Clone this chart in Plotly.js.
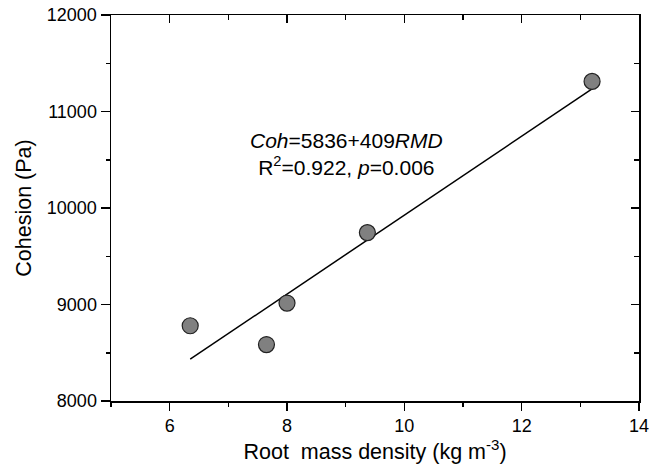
<!DOCTYPE html>
<html><head><meta charset="utf-8">
<script src="https://cdn.plot.ly/plotly-3.0.1.min.js"></script>
<style>html,body{margin:0;padding:0;background:#fff}</style>
</head><body>
<div id="chart" style="width:661px;height:466px"></div>
<script>
const rmd = [6.35, 7.65, 8.0, 9.37, 13.2];
const cohesion = [8780, 8585, 9015, 9745, 11312];
const fitX = [6.35, 13.2];
const fitY = [8433, 11235];
const xTicks = [6, 8, 10, 12, 14];
const yTicks = [8000, 9000, 10000, 11000, 12000];
const eqText = '<i>Coh</i>=5836+409<i>RMD</i><br>R<sup>2</sup>=0.922, <i>p</i>=0.006';

const FONT = 'Liberation Sans, Arial, sans-serif';
const traces = [
  {x: fitX, y: fitY, mode: 'lines', type: 'scatter', line: {color: '#000', width: 1.5}, hoverinfo: 'skip'},
  {x: rmd, y: cohesion, mode: 'markers', type: 'scatter',
   marker: {size: 16, color: '#808080', line: {color: '#222', width: 1.2}}},
  {x: [5], y: [8000], xaxis: 'x2', yaxis: 'y2', mode: 'markers', marker: {opacity: 0}, hoverinfo: 'skip'}
];
const common = {showgrid: false, zeroline: false, linecolor: '#000', linewidth: 1.5, tickcolor: '#000', tickwidth: 1.5};
const layout = {
  width: 661, height: 466, showlegend: false,
  margin: {l: 111, r: 22, t: 15, b: 65},
  paper_bgcolor: '#fff', plot_bgcolor: '#fff',
  font: {family: FONT, color: '#000', size: 18},
  xaxis: Object.assign({}, common, {range: [5, 14], tickvals: xTicks, ticktext: xTicks.map(String),
    ticks: 'outside', ticklen: 8, showline: true,
    minor: {dtick: 1, tick0: 0, ticks: 'outside', ticklen: 4, tickcolor: '#000', tickwidth: 1.5},
    tickfont: {size: 18, family: FONT},
    title: {text: 'Root\u00a0 mass density (kg m<sup>-3</sup>)', font: {size: 21.5, family: FONT}, standoff: 4}}),
  yaxis: Object.assign({}, common, {range: [8000, 12000], tickvals: yTicks, ticktext: yTicks.map(String),
    ticks: 'outside', ticklen: 9, showline: true,
    minor: {dtick: 500, tick0: 0, ticks: 'outside', ticklen: 4, tickcolor: '#000', tickwidth: 1.5},
    tickfont: {size: 18, family: FONT},
    title: {text: 'Cohesion (Pa)', font: {size: 21.5, family: FONT}, standoff: 9}}),
  xaxis2: Object.assign({}, common, {range: [5, 14], overlaying: 'x', side: 'top', anchor: 'y2',
    tickvals: xTicks, showticklabels: false, ticks: 'inside', ticklen: 8, showline: true,
    minor: {dtick: 1, tick0: 0, ticks: 'inside', ticklen: 5, tickcolor: '#000', tickwidth: 1.5}}),
  yaxis2: Object.assign({}, common, {range: [8000, 12000], overlaying: 'y', side: 'right', anchor: 'x2',
    tickvals: yTicks, showticklabels: false, ticks: 'inside', ticklen: 8, showline: true,
    minor: {dtick: 500, tick0: 0, ticks: 'inside', ticklen: 5, tickcolor: '#000', tickwidth: 1.5}}),
  annotations: [
    {x: 9.02, y: 10560, xref: 'x', yref: 'y', showarrow: false, text: eqText,
     font: {size: 21, family: FONT, color: '#000'}, align: 'center'}
  ]
};
Plotly.newPlot('chart', traces, layout, {displayModeBar: false, staticPlot: true});
</script>
</body></html>
